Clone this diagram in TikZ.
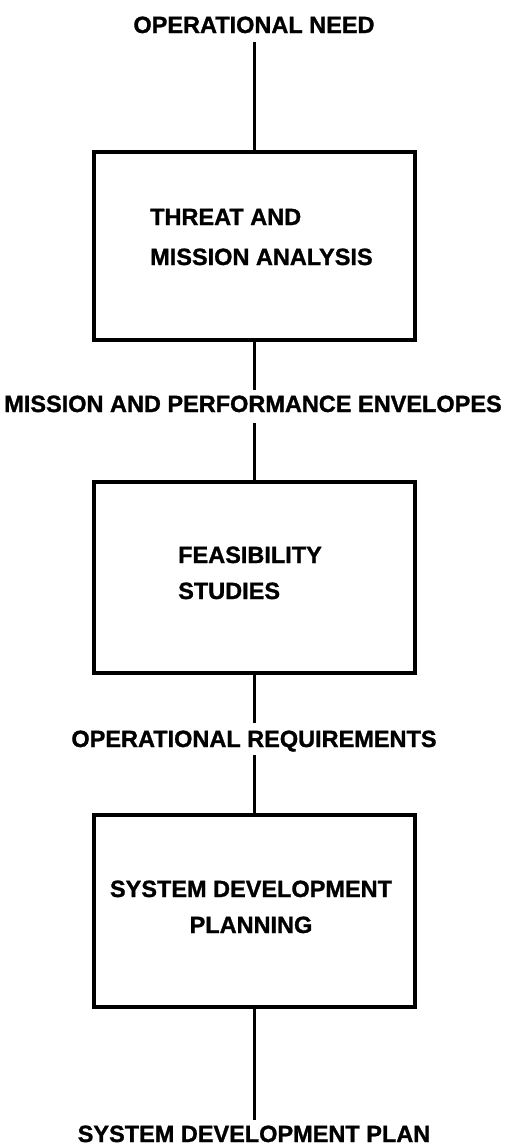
\documentclass[tikz,border=0pt]{standalone}
\usepackage{fontspec}
\setmainfont{Liberation Sans}[FakeBold=1.2]
\begin{document}
\begin{tikzpicture}[x=1pt,y=-1pt,
  every node/.style={font=\fontsize{23.5}{28}\selectfont\bfseries},
  procbox/.style={draw, line width=4pt, minimum width=321pt, inner sep=0pt},
  flowlabel/.style={anchor=base, inner sep=0pt, text height=17pt, text depth=0pt},
  boxtext/.style={inner sep=0pt},
  conn/.style={line width=3pt}]
\useasboundingbox (0,0) rectangle (506,1146);
% labels
\node[flowlabel] (need) at (254,33) {OPERATIONAL NEED};
\node[flowlabel] (env)  at (253,412) {MISSION AND PERFORMANCE ENVELOPES};
\node[flowlabel] (req)  at (254,747) {OPERATIONAL REQUIREMENTS};
\node[flowlabel] (plan) at (254,1142) {SYSTEM DEVELOPMENT PLAN};
% boxes
\node[procbox, minimum height=188pt] (b1) at (254,246) {};
\node[procbox, minimum height=191pt] (b2) at (254,577.5) {};
\node[procbox, minimum height=192pt] (b3) at (254,911) {};
% box texts
\node[boxtext, anchor=base west] (t1a) at (150,225) {THREAT AND};
\node[boxtext, anchor=base west] (t1b) at (150,265) {MISSION ANALYSIS};
\node[boxtext, anchor=base west] (t2a) at (178,563) {FEASIBILITY};
\node[boxtext, anchor=base west] (t2b) at (178,599) {STUDIES};
\node[boxtext, anchor=base] (t3a) at (251,897) {SYSTEM DEVELOPMENT};
\node[boxtext, anchor=base] (t3b) at (251,933) {PLANNING};
% connectors
\draw[conn, shorten <=9pt] (need.south) -- (b1.north);
\draw[conn, shorten >=5pt] (b1.south) -- (b1.south |- env.north);
\draw[conn, shorten <=11pt] (b2.north |- env.south) -- (b2.north);
\draw[conn, shorten >=7pt] (b2.south) -- (req.north);
\draw[conn, shorten <=8pt] (req.south) -- (b3.north);
\draw[conn, shorten >=5pt] (b3.south) -- (plan.north);
\end{tikzpicture}
\end{document}
